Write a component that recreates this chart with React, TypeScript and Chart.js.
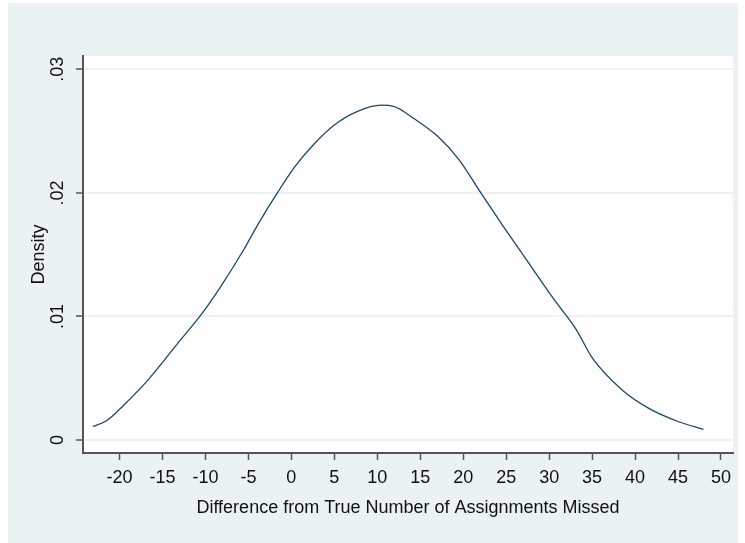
import React, { useEffect, useRef } from "react";
import { Chart, registerables } from "chart.js";

Chart.register(...registerables);

// Kernel density estimate
const xValues = [-23.1, -21.5, -19.4, -16.7, -12.9, -10.55, -8.24, -5.55, -3.85, -1.54, 0.39, 2.7, 5.0, 7.7, 10.4, 11.9, 14.3, 17.0, 19.5, 21.96, 24.66, 27.35, 30.44, 33.1, 35.06, 38.5, 41.6, 45.07, 47.96];
const densityValues = [0.0011, 0.00156, 0.0029, 0.00485, 0.0081, 0.0101, 0.0124, 0.0154, 0.0175, 0.0201, 0.0221, 0.024, 0.0255, 0.0266, 0.0271, 0.027, 0.026, 0.0246, 0.0227, 0.0201, 0.0173, 0.0146, 0.0115, 0.0090, 0.0066, 0.00405, 0.00256, 0.00148, 0.00086];

const xTickValues = [-20, -15, -10, -5, 0, 5, 10, 15, 20, 25, 30, 35, 40, 45, 50];
const yTickValues = [0, 0.01, 0.02, 0.03];
const yTickLabels = ["0", ".01", ".02", ".03"];

const xTitle = "Difference from True Number of Assignments Missed";
const yTitle = "Density";

const FONT = "'Liberation Sans', Arial, sans-serif";
const BG = "#eaf2f3";

export default function App() {
  const ref = useRef<HTMLCanvasElement | null>(null);

  useEffect(() => {
    if (!ref.current) return;
    const plotBg = {
      id: "plotBg",
      beforeDraw(chart: any) {
        const { ctx, chartArea } = chart;
        ctx.save();
        ctx.fillStyle = "#ffffff";
        ctx.fillRect(chartArea.left, chartArea.top, chartArea.right - chartArea.left, chartArea.bottom - chartArea.top);
        ctx.restore();
      },
    };
    const chart = new Chart(ref.current, {
      type: "line",
      data: {
        datasets: [
          {
            data: xValues.map((x, i) => ({ x, y: densityValues[i] })),
            borderColor: "#1a476f",
            borderWidth: 1.3,
            pointRadius: 0,
            fill: false,
            cubicInterpolationMode: "monotone",
          },
        ],
      },
      options: {
        animation: false,
        responsive: false,
        devicePixelRatio: 1,
        layout: { padding: { top: 53, left: 0, right: 0, bottom: 0 } },
        plugins: { legend: { display: false }, tooltip: { enabled: false } },
        scales: {
          x: {
            type: "linear",
            min: -24.25,
            max: 51.4,
            afterFit(scale: any) {
              scale.height = 90;
            },
            afterBuildTicks(scale: any) {
              scale.ticks = xTickValues.map((v) => ({ value: v }));
            },
            grid: {
              drawOnChartArea: false,
              drawTicks: true,
              tickLength: 7,
              tickColor: "#555555",
              tickWidth: 1.5,
            },
            border: { display: true, color: "#555555", width: 2 },
            ticks: {
              color: "#111111",
              font: { family: FONT, size: 18 },
              padding: 7,
              maxRotation: 0,
              minRotation: 0,
              autoSkip: false,
              callback: (v: any) => String(v),
            },
            title: {
              display: true,
              text: xTitle,
              color: "#111111",
              font: { family: FONT, size: 18 },
              padding: { top: 0, bottom: 24 },
            },
          },
          y: {
            type: "linear",
            min: -0.00105,
            max: 0.03108,
            afterFit(scale: any) {
              scale.width = 75;
            },
            afterBuildTicks(scale: any) {
              scale.ticks = yTickValues.map((v) => ({ value: v }));
            },
            grid: {
              drawOnChartArea: true,
              color: "#edf3f4",
              lineWidth: 2,
              drawTicks: true,
              tickLength: 7,
              tickColor: "#555555",
              tickWidth: 1.5,
            },
            border: { display: true, color: "#555555", width: 2 },
            ticks: {
              color: "#111111",
              font: { family: FONT, size: 18 },
              padding: 5,
              minRotation: 90,
              maxRotation: 90,
              crossAlign: "center",
              autoSkip: false,
              callback: (v: any) => {
                const i = yTickValues.indexOf(v);
                return i >= 0 ? yTickLabels[i] : "";
              },
            },
            title: {
              display: true,
              text: yTitle,
              color: "#111111",
              font: { family: FONT, size: 18 },
              padding: { top: 20, bottom: 0 },
            },
          },
        },
      },
      plugins: [plotBg],
    } as any);
    return () => chart.destroy();
  }, []);

  return (
    <div style={{ position: "absolute", left: 8, top: 3, width: 730, height: 540, background: BG }}>
      <canvas ref={ref} width={730} height={540} style={{ display: "block" }} />
    </div>
  );
}
